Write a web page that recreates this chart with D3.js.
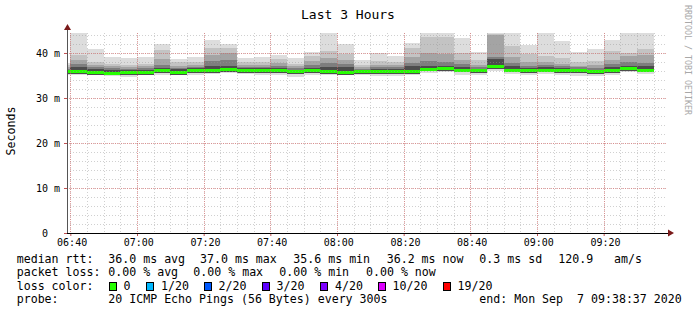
<!DOCTYPE html>
<html>
<head>
<meta charset="utf-8">
<script src="https://cdn.jsdelivr.net/npm/d3@7"></script>
<style>
  body { margin: 0; background: #fff; }
  svg text { font-family: "DejaVu Sans Mono", monospace; white-space: pre; }
</style>
</head>
<body>
<svg id="chart" width="697" height="315"></svg>
<script>
// end time of each 5 minute step
var stepEnds = ["06:40","06:45","06:50","06:55","07:00","07:05","07:10","07:15","07:20","07:25","07:30","07:35",
  "07:40","07:45","07:50","07:55","08:00","08:05","08:10","08:15","08:20","08:25","08:30","08:35",
  "08:40","08:45","08:50","08:55","09:00","09:05","09:10","09:15","09:20","09:25","09:30","09:35"];

// sorted ping values read per step (ms)
var pingMax = [37.8,44.4,40.9,39.1,38.9,39.2,41.9,38.7,39.1,42.8,42.0,38.8,39.1,39.6,38.9,40.2,44.4,42.0,
  38.4,39.9,39.4,42.2,44.4,44.4,43.3,40.3,44.4,44.4,41.7,44.4,42.7,40.2,40.9,42.8,44.4,44.4];
var ping18 = [37.3,39.6,38.1,37.6,37.3,37.5,40.6,38.0,38.0,41.0,41.2,37.9,38.0,38.6,37.6,39.3,40.4,39.8,
  37.4,38.2,38.0,41.1,43.5,43.5,40.0,38.4,44.2,41.5,39.8,39.4,38.9,38.1,38.3,40.5,40.0,40.8];
var ping16 = [36.9,38.5,37.4,37.0,36.9,37.0,38.6,37.2,37.4,39.5,40.0,37.3,37.4,37.8,37.1,38.2,38.9,38.5,
  36.9,37.4,37.3,39.0,40.0,39.8,38.5,37.4,44.0,39.0,38.0,37.9,37.6,37.2,37.3,38.5,39.3,39.5];
var ping14 = [36.5,37.5,36.9,36.6,36.5,36.6,37.4,36.7,36.9,38.2,38.4,36.9,36.9,37.1,36.6,37.3,37.8,37.5,
  36.5,36.8,36.8,37.8,38.3,38.0,37.5,36.8,39.0,37.8,37.2,37.3,37.0,36.8,36.7,37.5,38.0,37.8];
var ping12 = [36.2,36.8,36.5,36.3,36.2,36.3,36.7,36.4,36.6,37.0,37.2,36.6,36.6,36.6,36.3,36.7,36.9,36.8,
  36.2,36.4,36.4,37.0,37.0,37.2,36.8,36.5,38.7,37.0,36.7,36.8,36.6,36.5,36.3,36.8,37.2,37.0];
var medians = [35.8,35.8,35.7,35.5,35.6,35.7,36.0,35.7,36.0,36.1,36.3,36.1,36.1,36.0,35.8,36.0,35.8,35.7,
  35.8,35.8,35.9,35.9,36.4,36.6,36.2,36.1,37.0,36.2,36.1,36.2,36.1,36.0,35.8,36.0,36.6,36.2];
var ping4 = [35.3,35.3,35.2,35.0,35.1,35.2,35.5,35.2,35.5,35.6,35.8,35.6,35.6,35.5,35.3,35.5,35.3,35.2,
  35.3,35.3,35.4,35.4,35.9,36.1,35.7,35.6,36.4,35.7,35.6,35.7,35.6,35.5,35.3,35.5,36.1,35.7];
var pingMin = [35.0,35.1,35.0,34.8,34.6,35.0,35.2,35.0,35.2,35.3,35.5,35.3,35.2,35.2,34.7,35.1,35.0,35.0,
  35.0,34.9,34.8,35.0,35.5,35.7,35.2,35.1,35.9,35.3,35.0,35.4,35.2,34.9,34.8,35.1,35.7,35.3];

var yTicks = [0, 10, 20, 30, 40];
var yMax = 44.44;
var timeStart = "06:39", timeEnd = "09:39";

var lossLabels = ["0", "1/20", "2/20", "3/20", "4/20", "10/20", "19/20"];
var lossColors = ["#26ff00", "#00b8ff", "#0059ff", "#5e00ff", "#7e00ff", "#dd00ff", "#ff0000"];

var parseTime = d3.timeParse("%H:%M");
var svg = d3.select("#chart");

var margin = { left: 67, right: 30, top: 33, bottom: 82 };
var width = 600, height = 200;

var xScale = d3.scaleTime()
    .domain([parseTime(timeStart), parseTime(timeEnd)])
    .range([margin.left, margin.left + width]);
var yScale = d3.scaleLinear()
    .domain([0, yMax])
    .range([margin.top + height, margin.top]);

svg.append("rect").attr("width", 697).attr("height", 315).attr("fill", "#fff");

// clip the smoke to the plot area
svg.append("defs").append("clipPath").attr("id", "plot")
    .append("rect")
    .attr("x", margin.left).attr("y", margin.top)
    .attr("width", width).attr("height", height);

var steps = stepEnds.map(function (s, i) {
    var end = parseTime(s);
    return { start: d3.timeMinute.offset(end, -5), end: end, i: i };
});

// smoke bands, outer (light) to inner (dark)
var bands = [
    { top: pingMax, bottom: pingMin, color: "#dddddd" },
    { top: ping18, bottom: ping4, color: "#c3c3c3" },
    { top: ping16, bottom: ping4, color: "#a4a4a4" },
    { top: ping14, bottom: ping4, color: "#7e7e7e" },
    { top: ping12, bottom: ping4, color: "#4c4c4c" }
];

var smoke = svg.append("g").attr("clip-path", "url(#plot)").attr("shape-rendering", "crispEdges");

bands.forEach(function (b) {
    smoke.append("g").selectAll("rect")
        .data(steps)
        .join("rect")
        .attr("x", function (d) { return xScale(d.start); })
        .attr("width", function (d) { return xScale(d.end) - xScale(d.start); })
        .attr("y", function (d) { return yScale(b.top[d.i]); })
        .attr("height", function (d) { return yScale(b.bottom[d.i]) - yScale(b.top[d.i]); })
        .attr("fill", b.color);
});

// median, coloured by loss (no loss here)
smoke.append("g").selectAll("rect")
    .data(steps)
    .join("rect")
    .attr("x", function (d) { return xScale(d.start); })
    .attr("width", function (d) { return xScale(d.end) - xScale(d.start); })
    .attr("y", function (d) { return yScale(medians[d.i]) - 1.5; })
    .attr("height", 3)
    .attr("fill", lossColors[0]);

// grid on top
var grid = svg.append("g").attr("shape-rendering", "crispEdges");
var minorX = d3.timeMinute.every(5).range(parseTime("06:40"), xScale.domain()[1]);
var majorX = d3.timeMinute.every(20).range(parseTime("06:40"), xScale.domain()[1]);
var minorY = d3.range(2, yMax, 2);

grid.selectAll(".vmin").data(minorX).join("line")
    .attr("x1", function (d) { return Math.round(xScale(d)) + 0.5; })
    .attr("x2", function (d) { return Math.round(xScale(d)) + 0.5; })
    .attr("y1", margin.top).attr("y2", margin.top + height)
    .attr("stroke", "rgba(150,150,150,0.45)").attr("stroke-dasharray", "1,2");
grid.selectAll(".hmin").data(minorY).join("line")
    .attr("x1", margin.left).attr("x2", margin.left + width)
    .attr("y1", function (d) { return Math.round(yScale(d)) + 0.5; })
    .attr("y2", function (d) { return Math.round(yScale(d)) + 0.5; })
    .attr("stroke", "rgba(150,150,150,0.45)").attr("stroke-dasharray", "1,2");
grid.selectAll(".vmaj").data(majorX).join("line")
    .attr("x1", function (d) { return Math.round(xScale(d)) + 0.5; })
    .attr("x2", function (d) { return Math.round(xScale(d)) + 0.5; })
    .attr("y1", margin.top).attr("y2", margin.top + height)
    .attr("stroke", "rgba(215,90,90,0.55)").attr("stroke-dasharray", "1,1");
grid.selectAll(".hmaj").data(yTicks.slice(1)).join("line")
    .attr("x1", margin.left).attr("x2", margin.left + width)
    .attr("y1", function (d) { return Math.round(yScale(d)) + 0.5; })
    .attr("y2", function (d) { return Math.round(yScale(d)) + 0.5; })
    .attr("stroke", "rgba(215,90,90,0.55)").attr("stroke-dasharray", "1,1");

// axes
var xAxis = svg.append("g")
    .attr("transform", "translate(0," + (margin.top + height) + ")")
    .call(d3.axisBottom(xScale).tickValues(majorX).tickFormat(d3.timeFormat("%H:%M")).tickSize(3).tickPadding(2));
var yAxis = svg.append("g")
    .attr("transform", "translate(" + margin.left + ",0)")
    .call(d3.axisLeft(yScale).tickValues(yTicks)
        .tickFormat(function (v) { return v === 0 ? "0  " : v + " m"; })
        .tickSize(3).tickPadding(4));
[xAxis, yAxis].forEach(function (a) {
    a.select(".domain").remove();
    a.selectAll("text").attr("font-family", "DejaVu Sans Mono").attr("font-size", 10).attr("fill", "#000");
    a.selectAll(".tick line").attr("stroke", "#c05050");
});
xAxis.selectAll("text").attr("dx", 1.3).attr("dy", "0.78em");
yAxis.selectAll("text").attr("dy", "0.38em");

var base = margin.top + height;
svg.append("line").attr("x1", margin.left + 0.5).attr("x2", margin.left + 0.5)
    .attr("y1", base).attr("y2", 28).attr("stroke", "#555");
svg.append("line").attr("x1", margin.left).attr("x2", 670)
    .attr("y1", base + 0.5).attr("y2", base + 0.5).attr("stroke", "#000");
svg.append("path").attr("d", "M64,30L71,30L67.5,24Z").attr("fill", "#7a1a1a");
svg.append("path").attr("d", "M668,229.5L668,236.5L674,233Z").attr("fill", "#7a1a1a");

// title and axis label
svg.append("text").attr("x", 348).attr("y", 18.5).attr("text-anchor", "middle")
    .attr("font-size", 13).text("Last 3 Hours");
svg.append("text").attr("transform", "translate(15,131) rotate(-90)").attr("text-anchor", "middle")
    .attr("font-size", 11.6).text("Seconds");
svg.append("text").attr("transform", "translate(685,5) rotate(90)")
    .attr("font-size", 8.3).attr("fill", "#a8a8a8").text("RRDTOOL / TOBI OETIKER");

// legend
var legendRows = [
    { y: 262.8, items: [[16.7, "median rtt:"], [108.3, "36.0 ms avg"], [200, "37.0 ms max"], [293.3, "35.6 ms min"],
        [386.7, "36.2 ms now"], [479.3, "0.3 ms sd"], [558.3, "120.9"], [614, "am/s"]] },
    { y: 276.3, items: [[16.7, "packet loss:"], [108.3, "0.00 % avg"], [193.3, "0.00 % max"], [279.3, "0.00 % min"],
        [366, "0.00 % now"]] },
    { y: 289.8, items: [[16.7, "loss color:"]] },
    { y: 303.3, items: [[16.7, "probe:"], [108.3, "20 ICMP Echo Pings (56 Bytes) every 300s"],
        [479.3, "end: Mon Sep  7 09:38:37 2020"]] }
];
var legend = svg.append("g").attr("font-size", 11.6).attr("fill", "#000");
legendRows.forEach(function (row) {
    row.items.forEach(function (it) {
        legend.append("text").attr("x", it[0]).attr("y", row.y).text(it[1]);
    });
});

var boxX = [108.5, 146, 203.5, 261.5, 320, 377.5, 442.5];
lossLabels.forEach(function (lab, i) {
    legend.append("rect").attr("x", boxX[i] + 0.5).attr("y", 282.5).attr("width", 7).attr("height", 8)
        .attr("fill", lossColors[i]).attr("stroke", "#000").attr("shape-rendering", "crispEdges");
    legend.append("text").attr("x", boxX[i] + 15).attr("y", 289.8).text(lab);
});
</script>
</body>
</html>
